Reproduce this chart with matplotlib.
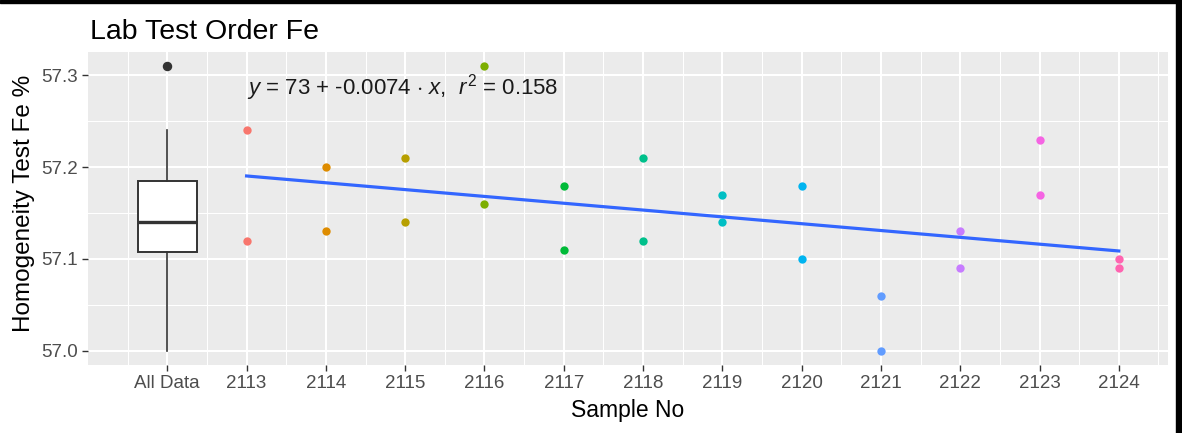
import numpy as np
import matplotlib
matplotlib.use("Agg")
import matplotlib.pyplot as plt
from matplotlib.patches import Rectangle

plt.rcParams['font.family'] = ['Liberation Sans', 'DejaVu Sans']
plt.rcParams['mathtext.fontset'] = 'custom'
plt.rcParams['mathtext.rm'] = 'Liberation Sans'
plt.rcParams['mathtext.it'] = 'Liberation Sans:italic'

# ---- data ----
samples = [2113, 2114, 2115, 2116, 2117, 2118, 2119, 2120, 2121, 2122, 2123, 2124]
fe_test1 = [57.24, 57.20, 57.21, 57.31, 57.18, 57.21, 57.17, 57.18, 57.06, 57.13, 57.23, 57.10]
fe_test2 = [57.12, 57.13, 57.14, 57.16, 57.11, 57.12, 57.14, 57.10, 57.00, 57.09, 57.17, 57.09]
all_data_pos = 2112
tick_labels = ["All Data"] + [str(s) for s in samples]
colors = ["#F8766D", "#DE8C00", "#B79F00", "#7CAE00", "#00BA38", "#00C08B",
          "#00BFC4", "#00B4F0", "#619CFF", "#C77CFF", "#F564E3", "#FF64B0"]
eq_label = r"$y$ = 73 + -0.0074 $\cdot$ $x$,  $r^2$ = 0.158"

W, H = 1182, 433
fig = plt.figure(figsize=(W / 100, H / 100), dpi=100)
L, R, T, B = 88, 1168, 52, 365
ax = fig.add_axes([L / W, 1 - B / H, (R - L) / W, (B - T) / H])
ax.set_facecolor("#EBEBEB")
for s in ax.spines.values():
    s.set_visible(False)

x_all = np.repeat(samples, 2)
y_all = np.concatenate([[a, b] for a, b in zip(fe_test1, fe_test2)])

# boxplot of all data
ax.boxplot(y_all, positions=[all_data_pos], widths=0.75, patch_artist=True,
           boxprops=dict(facecolor="white", edgecolor="#333333", linewidth=1.4),
           medianprops=dict(color="#333333", linewidth=2.4),
           whiskerprops=dict(color="#333333", linewidth=1.2),
           capprops=dict(linewidth=0),
           flierprops=dict(marker="o", markerfacecolor="#333333", markeredgecolor="#333333",
                           markersize=5.8),
           manage_ticks=False, zorder=3)

# points
for s, a, b, c in zip(samples, fe_test1, fe_test2, colors):
    ax.scatter([s, s], [a, b], s=36, color=c, zorder=4, linewidths=0)

# regression
slope, intercept = np.polyfit(x_all, y_all, 1)
xl = np.array([samples[0], samples[-1]])
ax.plot(xl, intercept + slope * xl, color="#3366FF", linewidth=2.3, zorder=5)

ax.text(2113, 57.287, eq_label, fontsize=16, color="#1A1A1A", va="center", ha="left",
        zorder=6)

# axes
ax.set_xlim(2111.0, 2124.62)
ax.set_ylim(56.9845, 57.3255)
ax.set_xticks([all_data_pos] + samples)
ax.set_xticklabels(tick_labels)
ax.set_xticks(np.arange(2111.5, 2125, 1.0), minor=True)
ax.set_yticks([57.0, 57.1, 57.2, 57.3])
ax.set_yticklabels(["57.0", "57.1", "57.2", "57.3"])
ax.set_yticks([57.05, 57.15, 57.25], minor=True)
ax.grid(which="major", color="white", linewidth=1.5)
ax.grid(which="minor", color="white", linewidth=0.75)
ax.set_axisbelow(True)
ax.tick_params(which="major", length=4, width=1, color="#333333", labelcolor="#4D4D4D",
               labelsize=13.5, pad=3)
ax.tick_params(which="minor", length=0)

fig.text(90 / W, 1 - 39 / H, "Lab Test Order Fe", fontsize=20.5, color="black",
         ha="left", va="baseline")
fig.text(24 / W, 1 - 203 / H, "Homogeneity Test Fe %", fontsize=17.5, rotation=90,
         ha="center", va="center", color="black")
fig.text(628 / W, 1 - 411 / H, "Sample No", fontsize=16.5, ha="center", va="center",
         color="black")

# screenshot border
fig.patches.append(Rectangle((0, 1 - 3 / H), 1, 3 / H, transform=fig.transFigure,
                             color="black", zorder=10))
fig.patches.append(Rectangle((1 - 6 / W, 0), 6 / W, 1, transform=fig.transFigure,
                             color="black", zorder=10))

fig.savefig("out.png", dpi=100)
